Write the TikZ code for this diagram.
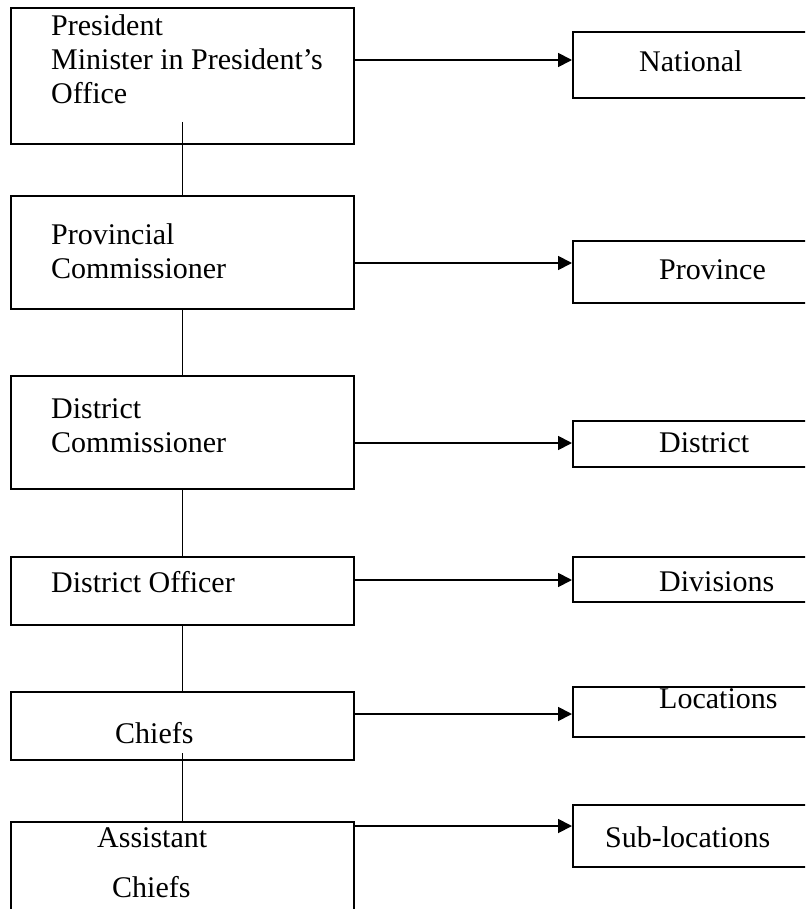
\documentclass[tikz,border=0pt]{standalone}
\usepackage{fontspec}
\setmainfont{Liberation Serif}
\usetikzlibrary{arrows.meta}
\tikzset{
  box/.style={draw, line width=1.8pt, rectangle, inner sep=0pt, anchor=north west},
  lbox/.style={box, minimum width=343pt},
  rbox/.style={box, minimum width=250pt},
  lbl/.style={anchor=base west, inner sep=0pt, align=left, font=\fontsize{30}{34}\selectfont},
  link/.style={line width=1.8pt},
  arr/.style={line width=1.8pt, -{Triangle[length=14pt,width=14pt]}}
}

\begin{document}
\begin{tikzpicture}[x=1pt,y=-1pt]
\useasboundingbox (0,0) rectangle (805,909);
\clip (0,0) rectangle (805,909);

% offices (left)
\node[lbox, minimum height=136pt] (pres) at (10,7) {};
\node[lbox, minimum height=113pt] (pc) at (10,195) {};
\node[lbox, minimum height=113pt] (dc) at (10,375) {};
\node[lbox, minimum height=68pt] (dof) at (10,556) {};
\node[lbox, minimum height=68pt] (chf) at (10,691) {};
\node[lbox, minimum height=120pt] (ach) at (10,821) {};

% levels (right)
\node[rbox, minimum height=66pt] (natl) at (572,31) {};
\node[rbox, minimum height=62pt] (prv) at (572,240) {};
\node[rbox, minimum height=46pt] (dist) at (572,420) {};
\node[rbox, minimum height=45pt] (divs) at (572,556) {};
\node[rbox, minimum height=50pt] (locs) at (572,686) {};
\node[rbox, minimum height=62pt] (subl) at (572,804) {};

% labels (base = last line)
\node[lbl] (presT) at (51,104) {President\\Minister in President’s\\Office};
\node[lbl] (pcT) at (51,278) {Provincial\\Commissioner};
\node[lbl] (dcT) at (51,452) {District\\Commissioner};
\node[lbl] (dofT) at (51,592) {District Officer};
\node[lbl] (chfT) at (115,743) {Chiefs};
\node[lbl] (achT1) at (97,847) {Assistant};
\node[lbl] (achT2) at (112,897) {Chiefs};

\node[lbl] (natlT) at (639,72) {National};
\node[lbl] (prvT) at (659,279) {Province};
\node[lbl] (distT) at (659,452) {District};
\node[lbl] (divsT) at (659,591) {Divisions};
\node[lbl] (locsT) at (659,708) {Locations};
\node[lbl] (sublT) at (605,847) {Sub-locations};

% chain of command
\coordinate (p1) at (pres.south |- 0,122);
\coordinate (c1) at (chf.south |- 0,753);
\draw[link] (p1) -- (pc.north);
\draw[link] (pc.south) -- (dc.north);
\draw[link] (dc.south) -- (dof.north);
\draw[link] (dof.south) -- (chf.north);
\draw[link] (c1) -- (ach.north);

\foreach \l/\r/\y in {pres/natl/60, pc/prv/263, dc/dist/443, dof/divs/580, chf/locs/714, ach/subl/826}
  \draw[arr] (\l.east |- 0,\y) -- (\r.west |- 0,\y);
\end{tikzpicture}
\end{document}
